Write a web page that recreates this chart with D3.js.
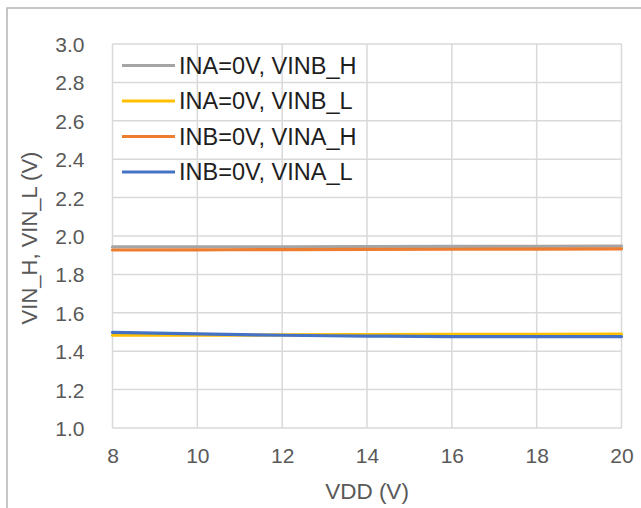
<!DOCTYPE html>
<html>
<head>
<meta charset="utf-8">
<script src="https://cdn.jsdelivr.net/npm/d3@7"></script>
<style>
  html, body { margin: 0; padding: 0; background: #fff; }
  svg { display: block; }
  text { font-family: "Liberation Sans", Arial, sans-serif; }
</style>
</head>
<body>
<svg id="chart" width="641" height="508"></svg>
<script>
// Supply voltage sweep (V)
const vdd = [8, 10, 12, 14, 16, 18, 20];

// Input thresholds (V) for each test condition
const vinbH = [1.943, 1.944, 1.944, 1.945, 1.946, 1.946, 1.947];
const vinbL = [1.483, 1.483, 1.485, 1.487, 1.488, 1.488, 1.489];
const vinaH = [1.927, 1.928, 1.929, 1.930, 1.931, 1.932, 1.933];
const vinaL = [1.498, 1.490, 1.483, 1.479, 1.476, 1.476, 1.476];

const seriesNames = ["INA=0V, VINB_H", "INA=0V, VINB_L", "INB=0V, VINA_H", "INB=0V, VINA_L"];
const seriesColors = ["#a5a5a5", "#ffc000", "#ed7d31", "#4472c4"];
const seriesValues = [vinbH, vinbL, vinaH, vinaL];

const xTicks = [8, 10, 12, 14, 16, 18, 20];
const yTicks = [1.0, 1.2, 1.4, 1.6, 1.8, 2.0, 2.2, 2.4, 2.6, 2.8, 3.0];

const svg = d3.select("#chart");

// Outer chart frame (top and left edges visible)
svg.append("path")
  .attr("d", "M7,508 V8 H641")
  .attr("fill", "none")
  .attr("stroke", "#b4b4b4")
  .attr("stroke-width", 1.5);

const plot = { left: 112.5, right: 621.5, top: 44, bottom: 428 };

const x = d3.scaleLinear().domain([8, 20]).range([plot.left, plot.right]);
const y = d3.scaleLinear().domain([1.0, 3.0]).range([plot.bottom, plot.top]);

// Gridlines
const grid = svg.append("g").attr("stroke", "#d9d9d9").attr("stroke-width", 1.5);
grid.selectAll("line.h").data(yTicks).join("line")
  .attr("class", "h")
  .attr("x1", plot.left).attr("x2", plot.right)
  .attr("y1", d => y(d)).attr("y2", d => y(d));
grid.selectAll("line.v").data(xTicks).join("line")
  .attr("class", "v")
  .attr("x1", d => x(d)).attr("x2", d => x(d))
  .attr("y1", plot.top).attr("y2", plot.bottom);

// Y axis labels
const yAxis = svg.append("g")
  .attr("transform", `translate(${plot.left},0)`)
  .call(d3.axisLeft(y).tickValues(yTicks).tickFormat(d3.format(".1f")).tickSize(0).tickPadding(28));
yAxis.select(".domain").remove();
yAxis.selectAll("text")
  .attr("fill", "#595959")
  .style("font-size", "21px")
  .attr("dy", "0.36em");

// X axis labels
const xAxis = svg.append("g")
  .attr("transform", `translate(0,${plot.bottom})`)
  .call(d3.axisBottom(x).tickValues(xTicks).tickFormat(d3.format("d")).tickSize(0).tickPadding(20));
xAxis.select(".domain").remove();
xAxis.selectAll("text")
  .attr("fill", "#595959")
  .style("font-size", "21px")
  .attr("dy", "0.71em");

// Axis titles
svg.append("text")
  .attr("x", (plot.left + plot.right) / 2)
  .attr("y", 499)
  .attr("text-anchor", "middle")
  .attr("fill", "#595959")
  .style("font-size", "22.5px")
  .text("VDD (V)");

svg.append("text")
  .attr("transform", "translate(37,238) rotate(-90)")
  .attr("text-anchor", "middle")
  .attr("fill", "#595959")
  .style("font-size", "22px")
  .text("VIN_H, VIN_L (V)");

// Series lines
const line = d3.line()
  .x((d, i) => x(vdd[i]))
  .y(d => y(d))
  .curve(d3.curveMonotoneX);

svg.append("g").selectAll("path")
  .data(seriesValues)
  .join("path")
  .attr("d", d => line(d))
  .attr("fill", "none")
  .attr("stroke", (d, i) => seriesColors[i])
  .attr("stroke-width", 3.2)
  .attr("stroke-linecap", "round");

// Legend
const legend = svg.append("g");
const rows = legend.selectAll("g")
  .data(seriesNames)
  .join("g")
  .attr("transform", (d, i) => `translate(122,${65.5 + i * 35.5})`);
rows.append("line")
  .attr("x1", 0).attr("x2", 53)
  .attr("y1", 0).attr("y2", 0)
  .attr("stroke", (d, i) => seriesColors[i])
  .attr("stroke-width", 3.2);
rows.append("text")
  .attr("x", 57)
  .attr("y", 0)
  .attr("dy", "0.36em")
  .attr("fill", "#1e1e1e")
  .style("font-size", "23.5px")
  .text(d => d);
</script>
</body>
</html>
